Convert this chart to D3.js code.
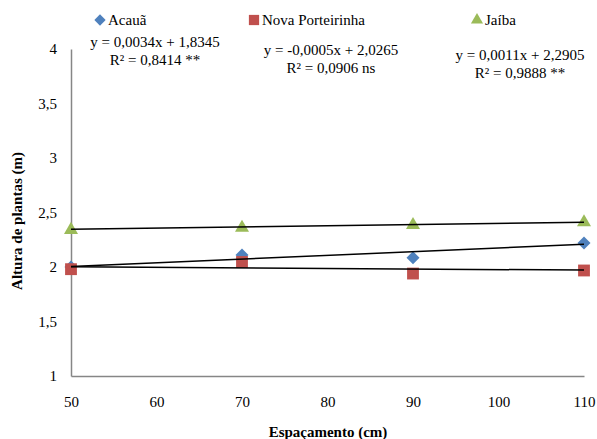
<!DOCTYPE html>
<html>
<head>
<meta charset="utf-8">
<script src="https://cdn.jsdelivr.net/npm/d3@7"></script>
<style>
  html, body { margin: 0; padding: 0; background: #fff; }
  svg { display: block; }
</style>
</head>
<body>
<svg id="chart" width="597" height="439"></svg>
<script>
// ---- data ----
const espacamento = [50, 70, 90, 110];
const acaua = [2.00, 2.11, 2.085, 2.22];
const novaPorteirinha = [1.98, 2.046, 1.94, 1.968];
const jaiba = [2.34, 2.36, 2.385, 2.41];
const seriesNames = ["Acauã", "Nova Porteirinha", "Jaíba"];
const slopes = [0.0034, -0.0005, 0.0011];
const intercepts = [1.8345, 2.0265, 2.2905];
const eqLabels = ["y = 0,0034x + 1,8345", "y = -0,0005x + 2,0265", "y = 0,0011x + 2,2905"];
const r2Labels = ["R² = 0,8414 **", "R² = 0,0906 ns", "R² = 0,9888 **"];
const xTicks = [50, 60, 70, 80, 90, 100, 110];
const yTicks = [1, 1.5, 2, 2.5, 3, 3.5, 4];

const FONT = "'Liberation Serif', 'Times New Roman', Tinos, 'DejaVu Serif', serif";
const colors = ["#4F81BD", "#C0504D", "#9BBB59"];
const shapes = [d3.symbolSquare, d3.symbolSquare, d3.symbolTriangle];
const rotations = [45, 0, 0];
const symSizes = [85, 140, 85];

const svg = d3.select("#chart");
const x = d3.scaleLinear().domain([50, 110]).range([71, 584]);
const y = d3.scaleLinear().domain([1, 4]).range([376, 49]);

const fmt = v => String(v).replace(".", ",");

// axes
const yAxis = svg.append("g").attr("transform", "translate(71,0)")
  .call(d3.axisLeft(y).tickValues(yTicks).tickSize(0).tickPadding(14).tickFormat(fmt));
const xAxis = svg.append("g").attr("transform", "translate(0,376)")
  .call(d3.axisBottom(x).tickValues(xTicks).tickSize(0).tickPadding(20).tickFormat(fmt));
[yAxis, xAxis].forEach(g => {
  g.attr("font-family", FONT).attr("font-size", 15);
  g.select(".domain").attr("stroke", "#868686").attr("stroke-width", 1.5);
  g.selectAll("text").attr("fill", "#000");
});

// axis titles
svg.append("text").attr("x", 328).attr("y", 437).attr("text-anchor", "middle")
  .attr("font-family", FONT).attr("font-size", 15).attr("font-weight", "bold").text("Espaçamento (cm)");
svg.append("text").attr("transform", "translate(22,221) rotate(-90)").attr("text-anchor", "middle")
  .attr("font-family", FONT).attr("font-size", 15).attr("font-weight", "bold").text("Altura de plantas (m)");

// markers
const allSeries = [acaua, novaPorteirinha, jaiba];
allSeries.forEach((vals, i) => {
  svg.append("g").selectAll("path").data(vals).join("path")
    .attr("d", d3.symbol().type(shapes[i]).size(symSizes[i]))
    .attr("transform", (d, j) => `translate(${x(espacamento[j])},${y(d)}) rotate(${rotations[i]})`)
    .attr("fill", colors[i]);
});

// trendlines
slopes.forEach((s, i) => {
  const x0 = 50, x1 = 110;
  svg.append("line")
    .attr("x1", x(x0)).attr("y1", y(s * x0 + intercepts[i]))
    .attr("x2", x(x1)).attr("y2", y(s * x1 + intercepts[i]))
    .attr("stroke", "#000").attr("stroke-width", 1.5);
});

// legend
const legendX = [100, 254, 477];
seriesNames.forEach((n, i) => {
  svg.append("path").attr("d", d3.symbol().type(shapes[i]).size(symSizes[i] * 0.75))
    .attr("transform", `translate(${legendX[i]},20) rotate(${rotations[i]})`).attr("fill", colors[i]);
  svg.append("text").attr("x", legendX[i] + 8).attr("y", 25)
    .attr("font-family", FONT).attr("font-size", 15).text(n);
});

// equations
const eqPos = [[155, 47, 65], [331, 55, 73], [520, 60, 78]];
eqLabels.forEach((t, i) => {
  svg.append("text").attr("x", eqPos[i][0]).attr("y", eqPos[i][1]).attr("text-anchor", "middle")
    .attr("font-family", FONT).attr("font-size", 15).text(t);
  svg.append("text").attr("x", eqPos[i][0]).attr("y", eqPos[i][2]).attr("text-anchor", "middle")
    .attr("font-family", FONT).attr("font-size", 15).text(r2Labels[i]);
});
</script>
</body>
</html>
